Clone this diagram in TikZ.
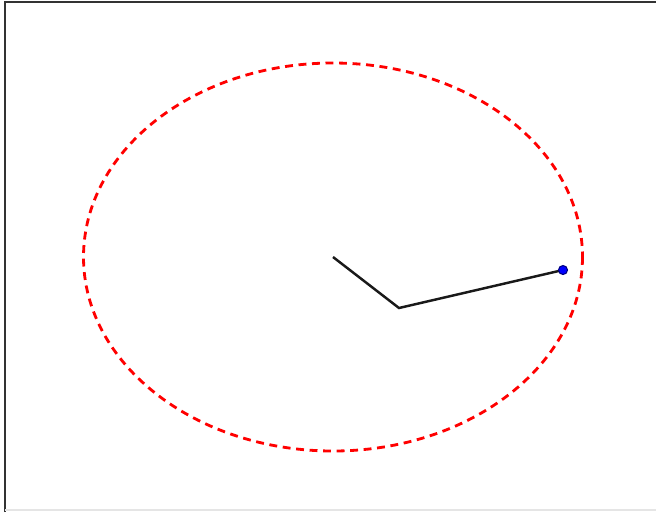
\documentclass[tikz,border=0pt]{standalone}
\usepackage{tikz}

\begin{document}
\begin{tikzpicture}[
  x=0.02cm, y=-0.02cm,
  orbit/.style={draw=red, line width=1.6pt, dash pattern=on 4.5pt off 3.2pt},
  arm/.style={draw=black!90, line width=1.4pt, line join=miter},
  bob/.style={circle, draw=blue!50!black, fill=blue, inner sep=0pt, minimum size=0.18cm, line width=0.6pt}
]
\useasboundingbox (0,0) rectangle (656,512);
% frame
\draw[line width=1pt, black!80] (5,512) -- (5,2) -- (656,2);
\draw[line width=0.8pt, black!10] (5,510) -- (656,510);
% orbit
\coordinate (pivot) at (333,257);
\draw[orbit] (pivot) ellipse [x radius=249.5, y radius=194];
% arms
\coordinate (elbow) at (399,308);
\coordinate (end) at (563,270);
\draw[arm] (pivot) -- (elbow) -- (end);
\node[bob] (tip) at (end) {};
\end{tikzpicture}
\end{document}
